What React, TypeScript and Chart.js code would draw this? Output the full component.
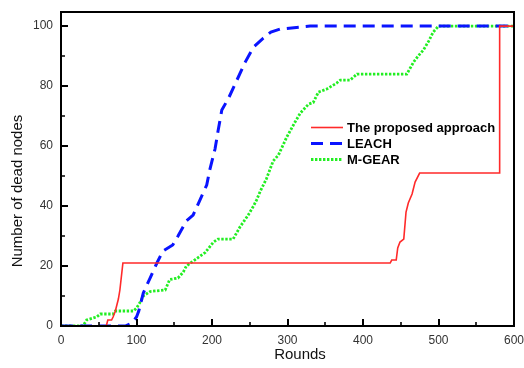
import React, { useEffect, useRef } from "react";
import { Chart, registerables } from "chart.js";

Chart.register(...registerables);

// ---- Data ----
const PROPOSED_ROUNDS = [0, 60, 62, 67, 69, 72, 76, 78, 82, 436, 438, 444, 446, 449, 454, 457, 460, 465, 469, 475, 581, 581, 600];
const PROPOSED_DEAD = [0, 0, 2, 2, 3, 5, 9, 12, 21, 21, 22, 22, 26, 28, 29, 38, 41, 44, 48, 51, 51, 100, 100];

const LEACH_ROUNDS = [0, 85, 94, 100, 103, 109, 118, 127, 135, 148, 155, 166, 175, 184, 193, 197, 201, 204, 208, 213, 222, 233, 244, 255, 268, 278, 290, 330, 600];
const LEACH_DEAD = [0, 0, 1, 3, 5, 11, 16, 21, 25, 27, 30, 35, 37, 42, 47, 52, 56, 59, 65, 72, 76, 82, 88, 93, 96, 98, 99, 100, 100];

const MGEAR_ROUNDS = [0, 29, 34, 47, 52, 69, 72, 96, 100, 105, 109, 118, 138, 144, 155, 162, 166, 177, 191, 202, 208, 228, 237, 248, 255, 259, 264, 272, 281, 288, 299, 310, 317, 328, 334, 341, 352, 365, 370, 383, 392, 458, 467, 473, 480, 487, 493, 500, 600];
const MGEAR_DEAD = [0, 0, 2, 3, 4, 4, 5, 5, 6, 8, 10, 11.5, 12, 15.5, 16, 18, 20, 22, 24.5, 28, 29, 29, 33, 37, 40, 42, 45, 49, 55, 57, 63, 68, 71, 74, 74.5, 78, 79, 81, 82, 82, 84, 84, 88, 90, 92, 95, 98, 100, 100];

const SERIES_LABELS = ["The proposed approach", "LEACH", "M-GEAR"];
const X_TICKS = [0, 100, 200, 300, 400, 500, 600];
const X_MINOR_TICKS = [50, 150, 250, 350, 450, 550];
const Y_TICKS = [0, 20, 40, 60, 80, 100];
const Y_MINOR_TICKS = [10, 30, 50, 70, 90];
const X_TITLE = "Rounds";
const Y_TITLE = "Number of dead nodes";

const FONT = "'Liberation Sans', Arial, sans-serif";

function toPoints(xs: number[], ys: number[]) {
  return xs.map((x, i) => ({ x, y: ys[i] }));
}

const framePlugin = {
  id: "frameAndLegend",
  afterDatasetsDraw(chart: any) {
    const { ctx, chartArea } = chart;
    const xs = chart.scales.x;
    const ys = chart.scales.y;
    const { left, right, top, bottom } = chartArea;
    ctx.save();
    ctx.strokeStyle = "#000";
    ctx.lineCap = "butt";
    ctx.setLineDash([]);

    // inner ticks
    ctx.lineWidth = 2;
    ctx.beginPath();
    Y_TICKS.forEach((v) => {
      const y = Math.round(ys.getPixelForValue(v));
      ctx.moveTo(left, y);
      ctx.lineTo(left + 7, y);
    });
    X_TICKS.forEach((v) => {
      const x = Math.round(xs.getPixelForValue(v));
      ctx.moveTo(x, bottom);
      ctx.lineTo(x, bottom - 7);
    });
    ctx.stroke();
    ctx.lineWidth = 1.6;
    ctx.beginPath();
    Y_MINOR_TICKS.forEach((v) => {
      const y = Math.round(ys.getPixelForValue(v));
      ctx.moveTo(left, y);
      ctx.lineTo(left + 4, y);
    });
    X_MINOR_TICKS.forEach((v) => {
      const x = Math.round(xs.getPixelForValue(v));
      ctx.moveTo(x, bottom);
      ctx.lineTo(x, bottom - 4);
    });
    ctx.stroke();

    // frame
    ctx.lineWidth = 2;
    ctx.strokeRect(left, top, right - left, bottom - top);

    // axis titles
    ctx.fillStyle = "#111";
    ctx.font = `15px ${FONT}`;
    ctx.textAlign = "center";
    ctx.textBaseline = "middle";
    ctx.fillText(X_TITLE, 300, 355);
    ctx.save();
    ctx.translate(18, 191);
    ctx.rotate(-Math.PI / 2);
    ctx.fillText(Y_TITLE, 0, 0);
    ctx.restore();

    // legend
    const lx0 = 311;
    const lx1 = 343;
    const ly0 = 127.5;
    const dy = 16;
    chart.data.datasets.forEach((ds: any, i: number) => {
      const y = ly0 + i * dy;
      ctx.save();
      ctx.strokeStyle = ds.borderColor;
      ctx.lineWidth = ds.borderWidth;
      ctx.setLineDash(ds.borderDash || []);
      ctx.beginPath();
      ctx.moveTo(lx0, y);
      ctx.lineTo(lx1, y);
      ctx.stroke();
      ctx.restore();
      ctx.fillStyle = "#000";
      ctx.font = `bold 13px ${FONT}`;
      ctx.textAlign = "left";
      ctx.textBaseline = "middle";
      ctx.fillText(ds.label, 347, y + 1);
    });
    ctx.restore();
  },
};

export default function App() {
  const canvasRef = useRef<HTMLCanvasElement | null>(null);

  useEffect(() => {
    if (!canvasRef.current) return;
    const chart = new Chart(canvasRef.current, {
      type: "line",
      data: {
        datasets: [
          {
            label: SERIES_LABELS[0],
            data: toPoints(PROPOSED_ROUNDS, PROPOSED_DEAD),
            borderColor: "#ff2a2a",
            borderWidth: 1.6,
            pointRadius: 0,
            tension: 0,
          },
          {
            label: SERIES_LABELS[1],
            data: toPoints(LEACH_ROUNDS, LEACH_DEAD),
            borderColor: "#0a14ff",
            borderWidth: 3,
            borderDash: [12, 7],
            pointRadius: 0,
            tension: 0,
          },
          {
            label: SERIES_LABELS[2],
            data: toPoints(MGEAR_ROUNDS, MGEAR_DEAD),
            borderColor: "#22ee22",
            borderWidth: 2.8,
            borderDash: [2.4, 1.6],
            pointRadius: 0,
            tension: 0,
          },
        ],
      },
      options: {
        animation: false,
        responsive: false,
        parsing: true,
        layout: { padding: { top: 12, right: 10, left: 0, bottom: 0 } },
        plugins: {
          legend: { display: false },
          tooltip: { enabled: false },
        },
        scales: {
          x: {
            type: "linear",
            min: 0,
            max: 600,
            afterFit: (scale: any) => {
              scale.height = 42;
              scale.paddingLeft = 0;
              scale.paddingRight = 0;
            },
            afterBuildTicks: (scale: any) => {
              scale.ticks = X_TICKS.map((v) => ({ value: v }));
            },
            grid: { display: false, drawTicks: false },
            border: { display: false },
            ticks: {
              padding: 7,
              color: "#333",
              font: { family: FONT, size: 12 },
              maxRotation: 0,
              autoSkip: false,
            },
          },
          y: {
            type: "linear",
            min: 0,
            max: 104.7,
            afterFit: (scale: any) => {
              scale.width = 61;
              scale.paddingTop = 0;
              scale.paddingBottom = 0;
            },
            afterBuildTicks: (scale: any) => {
              scale.ticks = Y_TICKS.map((v) => ({ value: v }));
            },
            grid: { display: false, drawTicks: false },
            border: { display: false },
            ticks: {
              padding: 8,
              color: "#333",
              font: { family: FONT, size: 12 },
              autoSkip: false,
            },
          },
        },
      },
      plugins: [framePlugin],
    } as any);
    return () => chart.destroy();
  }, []);

  return (
    <div style={{ position: "fixed", left: 0, top: 0, width: 524, height: 368, background: "#fff" }}>
      <canvas ref={canvasRef} width={524} height={368} style={{ display: "block" }} />
    </div>
  );
}
